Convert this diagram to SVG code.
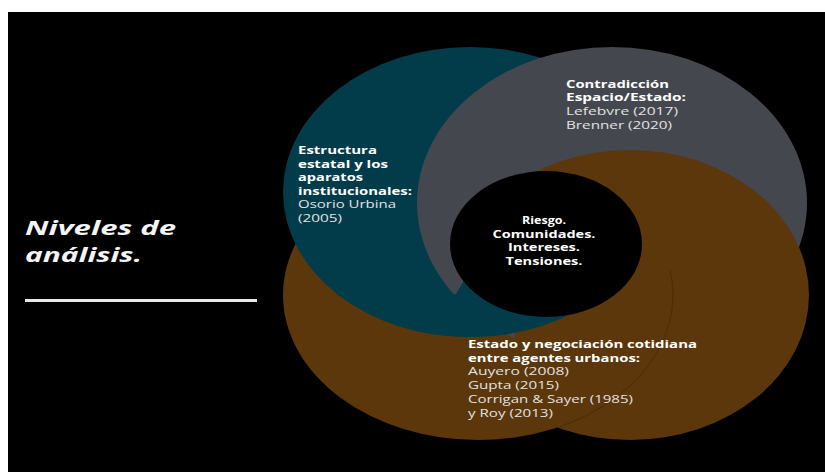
<svg xmlns="http://www.w3.org/2000/svg" width="825" height="472" viewBox="0 0 825 472">
  <style>
    text { font-family: "Open Sans", "DejaVu Sans", sans-serif; font-size: 11.3px; }
    .b { font-weight: 700; fill: #ffffff; }
    .r { font-weight: 400; fill: #e2e2e2; }
    .title { font-size: 20px; font-weight: 700; font-style: italic; fill: #f4f4f4; }
    .mid { text-anchor: middle; }
  </style>
  <defs>
    <clipPath id="brownRightSide">
      <rect x="515" y="0" width="310" height="472"/>
    </clipPath>
    <clipPath id="tealLower">
      <polygon points="0,294 456,294 482,250 825,250 825,472 0,472"/>
    </clipPath>
    <clipPath id="arcClip">
      <rect x="560" y="270" width="265" height="202"/>
    </clipPath>
  </defs>

  <rect x="0" y="0" width="825" height="472" fill="#ffffff"/>
  <rect x="8" y="12" width="817" height="460" fill="#000000"/>

  <g id="title">
    <text class="title" x="25" y="234.5" textLength="151" lengthAdjust="spacingAndGlyphs">Niveles de</text>
    <text class="title" x="25" y="261.5" textLength="117" lengthAdjust="spacingAndGlyphs">análisis.</text>
    <rect x="25" y="299" width="232" height="3" fill="#e8e8e8"/>
  </g>

  <g id="shapes">
    <ellipse id="brown-left" cx="478" cy="295" rx="195" ry="145" fill="#5b370b"/>
    <ellipse id="teal" cx="470" cy="192" rx="187" ry="145" fill="#023b4a"/>
    <ellipse id="grey" cx="612" cy="203" rx="195" ry="156" fill="#45474f"/>
    <ellipse id="brown-right" cx="630" cy="295" rx="179" ry="145" fill="#5b370b" clip-path="url(#brownRightSide)"/>
    <ellipse cx="478" cy="295" rx="195" ry="145" fill="none" stroke="#3e2506" stroke-width="1" opacity="0.6" clip-path="url(#arcClip)"/>
    <ellipse cx="470" cy="192" rx="187" ry="145" fill="#023b4a" clip-path="url(#tealLower)"/>
    <ellipse id="center" cx="546" cy="244" rx="96" ry="73" fill="#000000"/>
  </g>

  <g id="node-estructura">
    <text class="b" x="298" y="154" textLength="79" lengthAdjust="spacingAndGlyphs">Estructura</text>
    <text class="b" x="298" y="167.5" textLength="90" lengthAdjust="spacingAndGlyphs">estatal y los</text>
    <text class="b" x="298" y="181" textLength="65" lengthAdjust="spacingAndGlyphs">aparatos</text>
    <text class="b" x="298" y="194.5" textLength="114" lengthAdjust="spacingAndGlyphs">institucionales:</text>
    <text class="r" x="298" y="208" textLength="98" lengthAdjust="spacingAndGlyphs">Osorio Urbina</text>
    <text class="r" x="298" y="221.5" textLength="44" lengthAdjust="spacingAndGlyphs">(2005)</text>
  </g>

  <g id="node-contradiccion">
    <text class="b" x="566" y="87.5" textLength="103" lengthAdjust="spacingAndGlyphs">Contradicción</text>
    <text class="b" x="566" y="101" textLength="120" lengthAdjust="spacingAndGlyphs">Espacio/Estado:</text>
    <text class="r" x="566" y="115" textLength="112" lengthAdjust="spacingAndGlyphs">Lefebvre (2017)</text>
    <text class="r" x="566" y="128.5" textLength="106" lengthAdjust="spacingAndGlyphs">Brenner (2020)</text>
  </g>

  <g id="node-centro">
    <text class="b mid" x="544" y="224" textLength="44" lengthAdjust="spacingAndGlyphs">Riesgo.</text>
    <text class="b mid" x="544" y="237.7" textLength="103" lengthAdjust="spacingAndGlyphs">Comunidades.</text>
    <text class="b mid" x="544" y="251.3" textLength="72" lengthAdjust="spacingAndGlyphs">Intereses.</text>
    <text class="b mid" x="544" y="265" textLength="77" lengthAdjust="spacingAndGlyphs">Tensiones.</text>
  </g>

  <g id="node-estado">
    <text class="b" x="468" y="348" textLength="229" lengthAdjust="spacingAndGlyphs">Estado y negociación cotidiana</text>
    <text class="b" x="468" y="361.7" textLength="172" lengthAdjust="spacingAndGlyphs">entre agentes urbanos:</text>
    <text class="r" x="468" y="375.4" textLength="101" lengthAdjust="spacingAndGlyphs">Auyero (2008)</text>
    <text class="r" x="468" y="389" textLength="91" lengthAdjust="spacingAndGlyphs">Gupta (2015)</text>
    <text class="r" x="468" y="402.8" textLength="165" lengthAdjust="spacingAndGlyphs">Corrigan &amp; Sayer (1985)</text>
    <text class="r" x="468" y="416.5" textLength="85" lengthAdjust="spacingAndGlyphs">y Roy (2013)</text>
  </g>

  <g id="connectors"/>
</svg>
